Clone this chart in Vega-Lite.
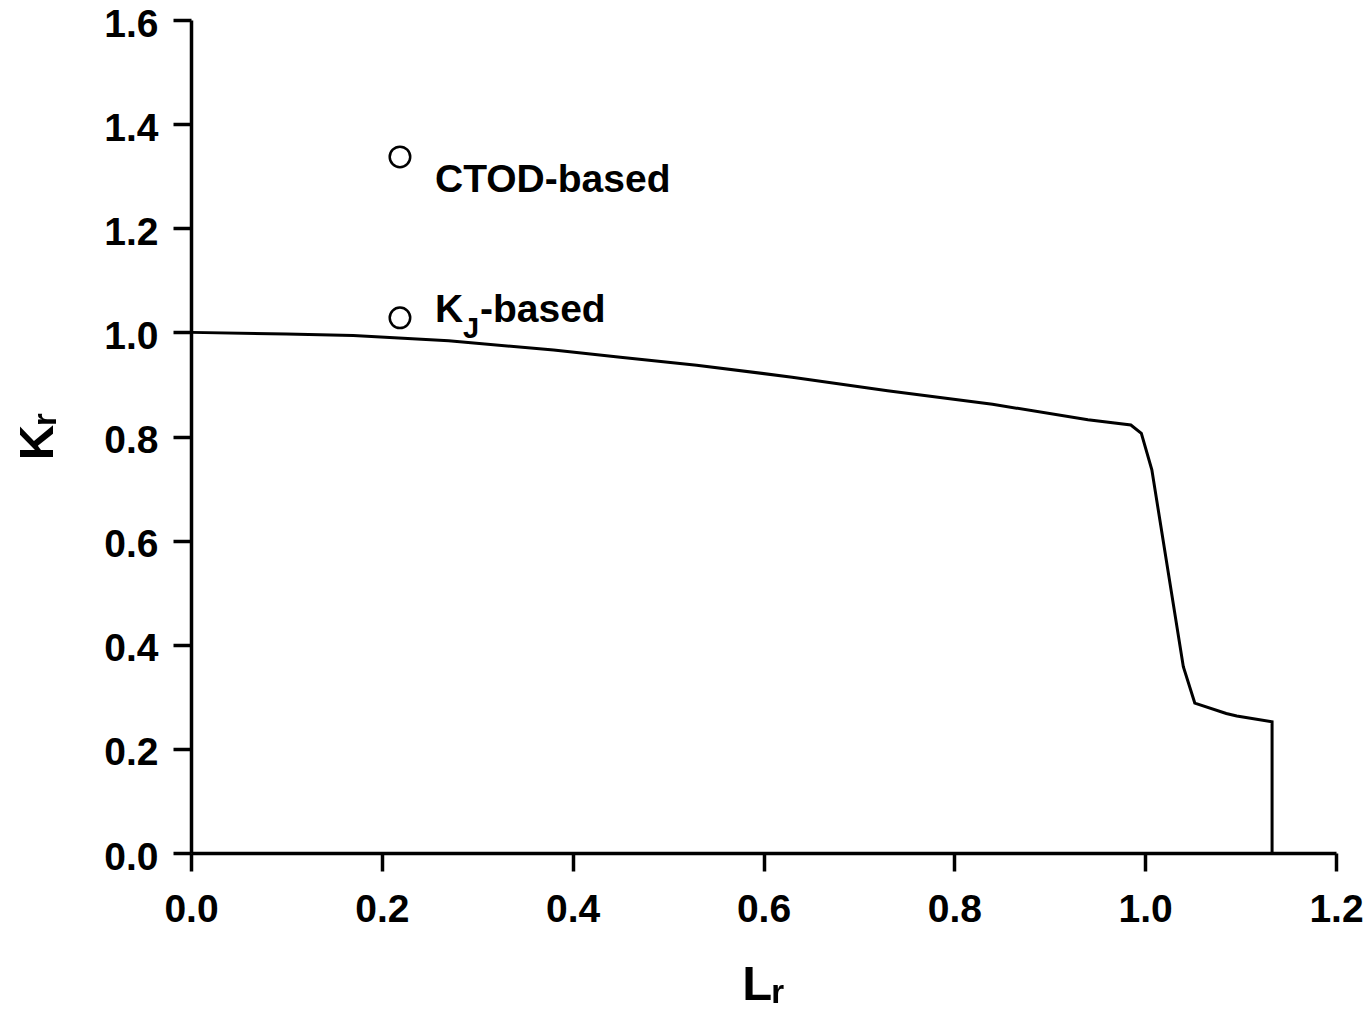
{
  "$schema": "https://vega.github.io/schema/vega-lite/v6.json",
  "width": 1145,
  "height": 833,
  "autosize": {"type": "none"},
  "padding": {"left": 191, "top": 20, "right": 35, "bottom": 163},
  "background": "white",
  "config": {
    "view": {"stroke": null},
    "font": "Liberation Sans",
    "axis": {
      "grid": false,
      "labelFlush": false,
      "labelOverlap": false,
      "domainColor": "black",
      "domainWidth": 3.5,
      "tickColor": "black",
      "tickWidth": 3.5,
      "tickSize": 18,
      "labelFont": "Liberation Sans",
      "labelFontSize": 39,
      "labelFontWeight": "bold",
      "labelColor": "black",
      "titleFont": "Liberation Sans",
      "titleFontSize": 49,
      "titleFontWeight": "bold",
      "titleColor": "black"
    }
  },
  "datasets": {
    "curve": [
      {"i": 0, "Lr": 0.0, "Kr": 1.0},
      {"i": 1, "Lr": 0.1, "Kr": 0.997},
      {"i": 2, "Lr": 0.17, "Kr": 0.994},
      {"i": 3, "Lr": 0.27, "Kr": 0.984},
      {"i": 4, "Lr": 0.38, "Kr": 0.966},
      {"i": 5, "Lr": 0.45, "Kr": 0.952},
      {"i": 6, "Lr": 0.53, "Kr": 0.937},
      {"i": 7, "Lr": 0.63, "Kr": 0.914},
      {"i": 8, "Lr": 0.73, "Kr": 0.888},
      {"i": 9, "Lr": 0.84, "Kr": 0.862},
      {"i": 10, "Lr": 0.94, "Kr": 0.832},
      {"i": 11, "Lr": 0.985, "Kr": 0.822},
      {"i": 12, "Lr": 0.996, "Kr": 0.806},
      {"i": 13, "Lr": 1.007, "Kr": 0.736},
      {"i": 14, "Lr": 1.04, "Kr": 0.358},
      {"i": 15, "Lr": 1.052, "Kr": 0.288},
      {"i": 16, "Lr": 1.085, "Kr": 0.268},
      {"i": 17, "Lr": 1.096, "Kr": 0.263},
      {"i": 18, "Lr": 1.133, "Kr": 0.252},
      {"i": 19, "Lr": 1.133, "Kr": 0.0}
    ],
    "points": [
      {"name": "CTOD-based", "Lr": 0.219, "Kr": 1.337},
      {"name": "KJ-based", "Lr": 0.219, "Kr": 1.028}
    ],
    "labels": [
      {"part": "main", "Lr": 0.2557, "Kr": 1.2696, "text": "CTOD-based"},
      {"part": "main", "Lr": 0.2557, "Kr": 1.02, "text": "K"},
      {"part": "sub", "Lr": 0.2557, "Kr": 1.02, "text": "J"},
      {"part": "rest", "Lr": 0.2557, "Kr": 1.02, "text": "-based"}
    ]
  },
  "encoding": {
    "x": {
      "field": "Lr", "type": "quantitative",
      "scale": {"domain": [0, 1.2], "nice": false, "zero": false},
      "axis": {
        "values": [0, 0.2, 0.4, 0.6, 0.8, 1.0, 1.2],
        "format": ".1f",
        "labelPadding": 19,
        "title": "Lᵣ",
        "titleBaseline": "alphabetic",
        "titleY": 146,
        "titleX": 572
      }
    },
    "y": {
      "field": "Kr", "type": "quantitative",
      "scale": {"domain": [0, 1.6], "nice": false, "zero": false},
      "axis": {
        "values": [0, 0.2, 0.4, 0.6, 0.8, 1.0, 1.2, 1.4, 1.6],
        "format": ".1f",
        "labelPadding": 15,
        "labelOffset": 4,
        "title": "Kᵣ",
        "titleAngle": -90,
        "titleBaseline": "alphabetic",
        "titleAlign": "center",
        "titleX": -139,
        "titleY": 416
      }
    }
  },
  "layer": [
    {
      "data": {"name": "curve"},
      "mark": {"type": "line", "color": "black", "strokeWidth": 3, "clip": false},
      "encoding": {"order": {"field": "i", "type": "quantitative"}}
    },
    {
      "data": {"name": "points"},
      "mark": {"type": "point", "shape": "circle", "size": 420, "filled": false, "stroke": "black", "strokeWidth": 2.5, "fill": "white", "fillOpacity": 1, "opacity": 1}
    },
    {
      "data": {"name": "labels"},
      "transform": [{"filter": "datum.part === 'main'"}],
      "mark": {"type": "text", "align": "left", "baseline": "alphabetic", "fontSize": 39, "fontWeight": "bold", "color": "black", "font": "Liberation Sans"},
      "encoding": {"text": {"field": "text"}}
    },
    {
      "data": {"name": "labels"},
      "transform": [{"filter": "datum.part === 'sub'"}],
      "mark": {"type": "text", "align": "left", "baseline": "alphabetic", "fontSize": 29, "fontWeight": "bold", "color": "black", "font": "Liberation Sans", "dx": 28, "dy": 16},
      "encoding": {"text": {"field": "text"}}
    },
    {
      "data": {"name": "labels"},
      "transform": [{"filter": "datum.part === 'rest'"}],
      "mark": {"type": "text", "align": "left", "baseline": "alphabetic", "fontSize": 39, "fontWeight": "bold", "color": "black", "font": "Liberation Sans", "dx": 45},
      "encoding": {"text": {"field": "text"}}
    }
  ]
}
